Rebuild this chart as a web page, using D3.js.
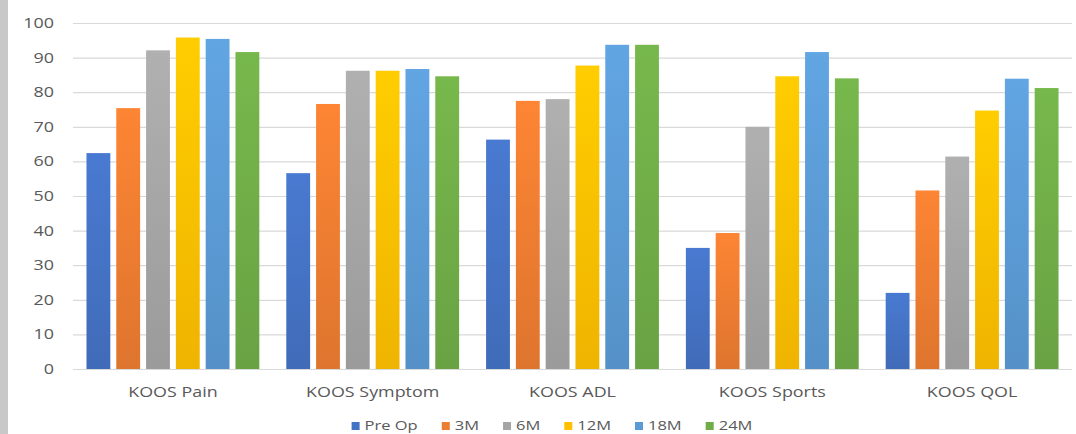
<!DOCTYPE html>
<html><head><meta charset="utf-8">
<script src="https://cdn.jsdelivr.net/npm/d3@7"></script>
<style>html,body{margin:0;padding:0;background:#fff;}svg{display:block;}</style>
</head><body>
<script>
const categories = ["KOOS Pain","KOOS Symptom","KOOS ADL","KOOS Sports","KOOS QOL"];
const seriesNames = ["Pre Op","3M","6M","12M","18M","24M"];
const preOp = [62.4, 56.6, 66.3, 35.0, 22.0];
const m3    = [75.4, 76.6, 77.5, 39.3, 51.6];
const m6    = [92.1, 86.2, 78.0, 70.0, 61.4];
const m12   = [95.8, 86.2, 87.7, 84.6, 74.7];
const m18   = [95.4, 86.7, 93.7, 91.6, 83.9];
const m24   = [91.6, 84.6, 93.7, 84.0, 81.2];
const yTicks = [0,10,20,30,40,50,60,70,80,90,100];
const colors = ["#4472C4","#ED7D31","#A5A5A5","#FFC000","#5B9BD5","#70AD47"];
const seriesValues = [preOp, m3, m6, m12, m18, m24];

(function(){
const W = 1076, H = 434;
const svg = d3.select("body").append("svg").attr("width", W).attr("height", H);
svg.append("rect").attr("x",0).attr("y",0).attr("width",W).attr("height",H).attr("fill","#fff");
svg.append("rect").attr("x",0).attr("y",0).attr("width",8).attr("height",H).attr("fill","#c8c8c8");

const font = "'Open Sans', 'Liberation Sans', sans-serif";
const SX = 1.28;
const pl = 73, pr = 1072, pt = 23, pb = 369;
const x0 = d3.scaleBand().domain(categories).range([pl, pr]).paddingInner(0.12).paddingOuter(0.06);
const x1 = d3.scaleBand().domain(seriesNames).range([0, x0.bandwidth()]).paddingInner(0.2).paddingOuter(0.05);
const y = d3.scaleLinear().domain([0,100]).range([pb, pt]);

const defs = svg.append("defs");
colors.forEach((c,i)=>{
  const g = defs.append("linearGradient").attr("id","g"+i).attr("x1",0).attr("y1",0).attr("x2",0).attr("y2",1);
  g.append("stop").attr("offset","0%").attr("stop-color", d3.color(c).brighter(0.18));
  g.append("stop").attr("offset","100%").attr("stop-color", d3.color(c).darker(0.18));
});

const yAxis = d3.axisLeft(y).tickValues(yTicks).tickSize(-(pr-pl)).tickPadding(18);
const ga = svg.append("g").attr("transform",`translate(${pl},0)`).call(yAxis);
ga.select(".domain").remove();
ga.selectAll(".tick line").attr("stroke","#d9d9d9").attr("stroke-width",1.2);
ga.selectAll(".tick text").attr("fill","#595959").style("font-family",font).style("font-size","14px")
  .attr("x",0).attr("transform",`translate(-19,0) scale(${SX},1)`);

const groups = svg.append("g").selectAll("g").data(categories).join("g")
  .attr("transform", d=>`translate(${x0(d)},0)`);
groups.selectAll("rect").data((d,ci)=>seriesNames.map((s,si)=>({s, si, v: seriesValues[si][ci]})))
  .join("rect")
  .attr("x", d=>x1(d.s)).attr("width", x1.bandwidth())
  .attr("y", d=>y(d.v)).attr("height", d=>y(0)-y(d.v))
  .attr("fill", d=>`url(#g${d.si})`);

const xAxis = d3.axisBottom(x0).tickSize(0).tickPadding(18);
const gx = svg.append("g").attr("transform",`translate(0,${pb})`).call(xAxis);
gx.select(".domain").remove();
gx.selectAll(".tick text").attr("fill","#595959").style("font-family",font).style("font-size","14px")
  .attr("transform",`scale(${SX},1)`);

const leg = svg.append("g").attr("transform","translate(0,430)");
const items = leg.selectAll("g").data(seriesNames).join("g");
items.append("rect").attr("width",8).attr("height",8).attr("y",-8).attr("fill",(d,i)=>colors[i]);
items.append("text").attr("x",0).attr("y",0).text(d=>d)
  .attr("transform",`translate(13,0) scale(1.32,1)`)
  .attr("fill","#595959").style("font-family",font).style("font-size","12.5px");
let widths = [];
items.each(function(){ widths.push(this.getBBox().width); });
const gap = 24;
const total = d3.sum(widths) + gap*(widths.length-1);
let cx = 552 - total/2;
items.attr("transform",(d,i)=>{ const t=`translate(${cx},0)`; cx += widths[i]+gap; return t; });
})();
</script>
</body></html>
